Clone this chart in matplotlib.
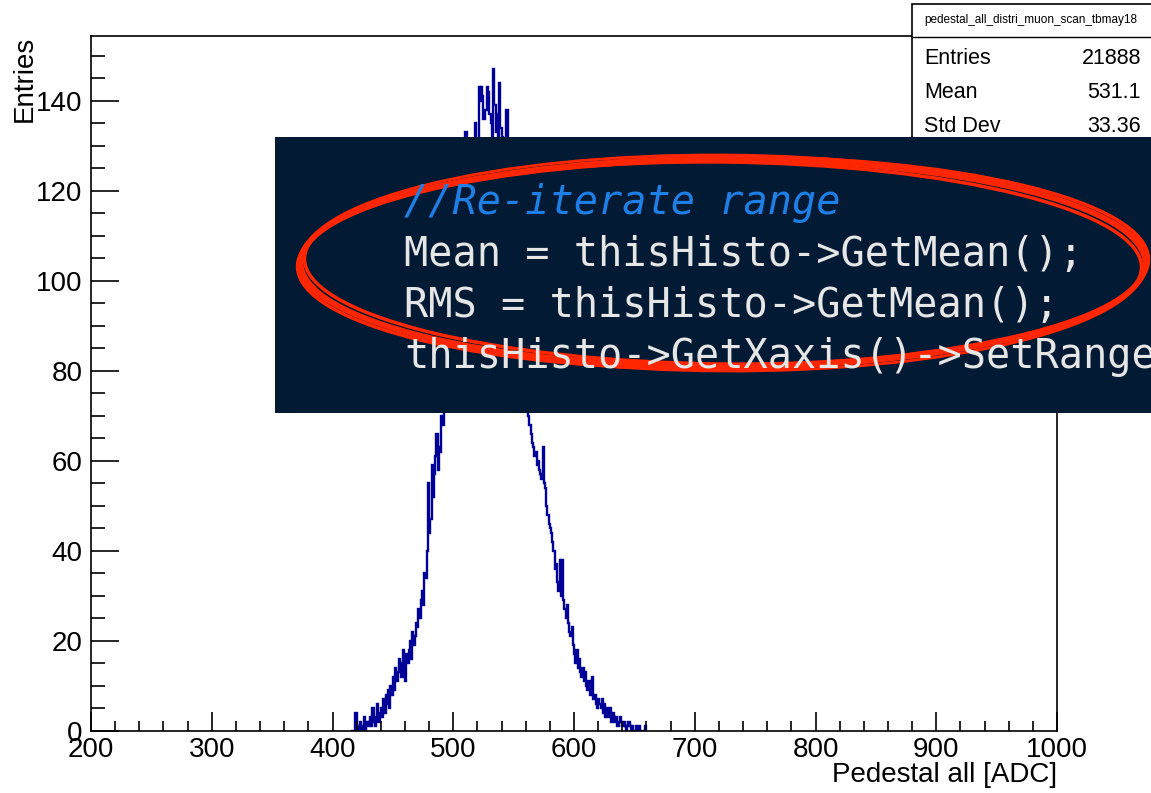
import numpy as np
import matplotlib.pyplot as plt
from matplotlib.patches import Rectangle, Ellipse
from matplotlib.ticker import MultipleLocator

# histogram contents, 1 ADC bins starting at 415
first_bin = 415
counts = [
    0, 0, 0, 0, 4,
    0, 1, 0, 2, 0, 1, 3, 0, 2, 1,
    2, 3, 1, 5, 2, 1, 3, 6, 2, 4,
    5, 3, 7, 4, 8, 6, 9, 5, 10, 8,
    12, 9, 14, 11, 13, 16, 15, 12, 18, 14,
    11, 17, 15, 18, 20, 16, 22, 19, 21, 24,
    23, 27, 25, 29, 31, 28, 35, 34, 40, 55,
    44, 47, 59, 52, 57, 61, 66, 58, 63, 62,
    70, 68, 72, 75, 73, 78, 80, 82, 85, 84,
    88, 92, 90, 95, 98, 100, 104, 107, 110, 112,
    133, 116, 118, 121, 124, 125, 127, 128, 135, 130,
    131, 143, 140, 143, 141, 136, 138, 138, 143, 142,
    137, 135, 131, 147, 139, 133, 137, 130, 144, 134,
    132, 129, 128, 127, 138, 125, 122, 120, 118, 116,
    113, 110, 106, 103, 99, 96, 92, 88, 85, 80,
    77, 74, 70, 68, 66, 64, 63, 61, 62, 59,
    60, 58, 57, 56, 63, 55, 54, 50, 48, 46,
    45, 44, 42, 40, 36, 37, 33, 31, 38, 30,
    38, 29, 27, 25, 28, 24, 22, 21, 23, 19,
    17, 15, 18, 14, 16, 13, 12, 14, 11, 13,
    10, 9, 11, 8, 9, 12, 7, 8, 6, 5,
    7, 6, 5, 7, 4, 6, 3, 5, 4, 3,
    5, 2, 4, 3, 2, 3, 1, 2, 3, 2,
    1, 2, 1, 0, 1, 2, 1, 0, 1, 0,
    0, 1, 0, 0, 1, 0, 0, 0, 0, 1,
]
edges = np.arange(first_bin, first_bin + len(counts) + 1)

stats_title = 'pedestal_all_distri_muon_scan_tbmay18'
stats_names = ['Entries', 'Mean', 'Std Dev']
stats_values = ['21888', '531.1', '33.36']

code_lines = ['Mean = thisHisto->GetMean();',
              'RMS = thisHisto->GetMean();',
              'thisHisto->GetXaxis()->SetRange(']
code_comment = '//Re-iterate range'

plt.rcParams['font.family'] = ['Liberation Sans', 'DejaVu Sans']

fig = plt.figure(figsize=(11.51, 7.93), dpi=100)
ax = fig.add_axes([91/1151, 1 - 731/793, (1057-91)/1151, (731-36)/793])

ax.stairs(counts, edges, color='#000099', lw=1.7)
ax.set_xlim(200, 1000)
ax.set_ylim(0, 154.4)

ax.xaxis.set_major_locator(MultipleLocator(100))
ax.xaxis.set_minor_locator(MultipleLocator(20))
ax.yaxis.set_major_locator(MultipleLocator(20))
ax.yaxis.set_minor_locator(MultipleLocator(5))
ax.tick_params(axis='x', which='major', direction='in', length=14, width=1.2, labelsize=20, pad=4)
ax.tick_params(axis='x', which='minor', direction='in', length=7, width=1.2)
ax.tick_params(axis='y', which='major', direction='in', length=20, width=1.2, labelsize=20, pad=6)
ax.tick_params(axis='y', which='minor', direction='in', length=10, width=1.2)
for s in ax.spines.values():
    s.set_linewidth(1.2)

ax.set_xlabel('Pedestal all [ADC]', fontsize=20, loc='right', labelpad=0)
ax.set_ylabel('Entries', fontsize=20, loc='top', labelpad=0)
ax.yaxis.set_label_coords(-0.055, 1.0)
ax.xaxis.set_label_coords(1.0, -0.045)

# overlay in pixel coordinates
ov = fig.add_axes([0, 0, 1, 1], zorder=10)
ov.set_xlim(0, 1151)
ov.set_ylim(793, 0)
ov.axis('off')
ov.patch.set_alpha(0)

# stats box
ov.add_patch(Rectangle((912, 4), 260, 145, facecolor='white', edgecolor='black', lw=1.2))
ov.plot([912, 1151], [37, 37], color='black', lw=1.0)
ov.text(1031, 20, stats_title, fontsize=8.5, ha='center', va='center')
for i, (n, v) in enumerate(zip(stats_names, stats_values)):
    yy = 59 + i * 34
    ov.text(924, yy, n, fontsize=15.5, ha='left', va='center')
    ov.text(1141, yy, v, fontsize=15.5, ha='right', va='center')

# code screenshot
ov.add_patch(Rectangle((275, 137), 900, 276, facecolor='#021a33', edgecolor='none'))
ov.text(404, 203, code_comment, family='DejaVu Sans Mono', style='italic',
        fontsize=29, color='#1e7fe6', ha='left', va='center')
for i, line in enumerate(code_lines):
    ov.text(404, 255 + i * 51, line, family='DejaVu Sans Mono', fontsize=29,
            color='#e6e6e6', ha='left', va='center', clip_on=False)

# hand-drawn red ellipse
for dw, dh, ang, lw in [(0, 0, 0, 4), (-8, -6, 0.6, 2.5), (6, 4, -0.5, 2.5), (-2, 8, 0.3, 2), (4, -4, -0.2, 2)]:
    ov.add_patch(Ellipse((723, 263), 845 + dw, 208 + dh, angle=ang, fill=False,
                         edgecolor='#ff2600', lw=lw))

fig.savefig('out.png', dpi=100)
